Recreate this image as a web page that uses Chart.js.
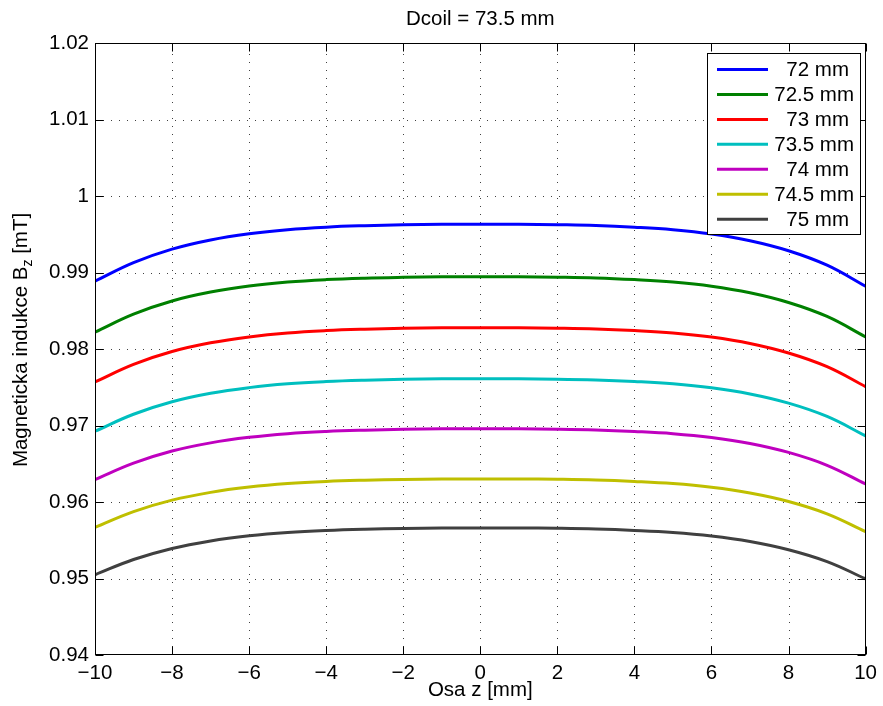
<!DOCTYPE html>
<html>
<head>
<meta charset="utf-8">
<script src="https://cdn.jsdelivr.net/npm/chart.js@4"></script>
<style>
  html, body { margin: 0; padding: 0; background: #fff; }
  #wrap { width: 883px; height: 706px; }
</style>
</head>
<body>
<div id="wrap"><canvas id="chart" width="883" height="706"></canvas></div>
<script>
const zPos = [-10, -9, -8, -7, -6, -5, -4, -3, -2, -1, 0, 1, 2, 3, 4, 5, 6, 7, 8, 9, 10];

const labels = ["72 mm", "72.5 mm", "73 mm", "73.5 mm", "74 mm", "74.5 mm", "75 mm"];
const colors = ["#0000ff", "#008000", "#ff0000", "#00bfbf", "#bf00bf", "#bfbf00", "#404040"];

const b72 = [0.98886, 0.99128, 0.99305, 0.99425, 0.99506, 0.99560, 0.99593, 0.99612, 0.99624, 0.99631, 0.99632,
  0.99631, 0.99625, 0.99615, 0.99593, 0.99560, 0.99504, 0.99416, 0.99285, 0.99096, 0.98821];
const b725 = [0.98221, 0.98456, 0.98628, 0.98744, 0.98823, 0.98875, 0.98907, 0.98926, 0.98937, 0.98944, 0.98945,
  0.98944, 0.98939, 0.98929, 0.98907, 0.98875, 0.98821, 0.98735, 0.98608, 0.98425, 0.98158];
const b73 = [0.97569, 0.97799, 0.97967, 0.98081, 0.98158, 0.98210, 0.98241, 0.98259, 0.98270, 0.98277, 0.98278,
  0.98277, 0.98272, 0.98262, 0.98241, 0.98210, 0.98156, 0.98073, 0.97948, 0.97769, 0.97508];
const b735 = [0.96925, 0.97147, 0.97310, 0.97421, 0.97495, 0.97545, 0.97575, 0.97593, 0.97604, 0.97610, 0.97611,
  0.97610, 0.97606, 0.97595, 0.97575, 0.97545, 0.97493, 0.97412, 0.97292, 0.97118, 0.96865];
const b74 = [0.96293, 0.96508, 0.96666, 0.96773, 0.96845, 0.96893, 0.96922, 0.96939, 0.96950, 0.96956, 0.96957,
  0.96956, 0.96952, 0.96942, 0.96922, 0.96893, 0.96843, 0.96765, 0.96648, 0.96480, 0.96235];
const b745 = [0.95668, 0.95874, 0.96024, 0.96126, 0.96195, 0.96241, 0.96269, 0.96285, 0.96295, 0.96301, 0.96302,
  0.96301, 0.96297, 0.96288, 0.96269, 0.96241, 0.96193, 0.96118, 0.96007, 0.95846, 0.95613];
const b75 = [0.95049, 0.95248, 0.95393, 0.95491, 0.95558, 0.95602, 0.95629, 0.95645, 0.95654, 0.95660, 0.95661,
  0.95660, 0.95656, 0.95647, 0.95629, 0.95602, 0.95556, 0.95484, 0.95376, 0.95221, 0.94996];

const series = [b72, b725, b73, b735, b74, b745, b75];

const FONT = "'Liberation Sans', Arial, sans-serif";
const FS = 20.5;

// matlab-like axes: dotted grid, box, inward ticks, legend, titles
const matlabAxes = {
  id: "matlabAxes",
  beforeDatasetsDraw(chart) {
    const { ctx, chartArea: a, scales: { x, y } } = chart;
    ctx.save();
    ctx.strokeStyle = "rgba(0,0,0,0.75)";
    ctx.lineWidth = 1;
    ctx.setLineDash([1, 7]);
    x.ticks.forEach(t => {
      const px = Math.round(x.getPixelForValue(t.value)) + 0.5;
      if (px <= a.left + 1 || px >= a.right - 1) return;
      ctx.beginPath(); ctx.moveTo(px, a.bottom); ctx.lineTo(px, a.top); ctx.stroke();
    });
    y.ticks.forEach(t => {
      const py = Math.round(y.getPixelForValue(t.value)) + 0.5;
      if (py <= a.top + 1 || py >= a.bottom - 1) return;
      ctx.beginPath(); ctx.moveTo(a.left, py); ctx.lineTo(a.right, py); ctx.stroke();
    });
    ctx.restore();
  },
  afterDatasetsDraw(chart) {
    const { ctx, chartArea: a, scales: { x, y } } = chart;
    ctx.save();
    ctx.strokeStyle = "#000";
    ctx.lineWidth = 1;
    const L = Math.round(a.left) + 0.5, R = Math.round(a.right) - 0.5;
    const T = Math.round(a.top) + 0.5, B = Math.round(a.bottom) - 0.5;
    ctx.strokeRect(L, T, R - L, B - T);
    const tl = 8;
    ctx.beginPath();
    x.ticks.forEach(t => {
      const px = Math.round(x.getPixelForValue(t.value)) + 0.5;
      ctx.moveTo(px, B); ctx.lineTo(px, B - tl);
      ctx.moveTo(px, T); ctx.lineTo(px, T + tl);
    });
    y.ticks.forEach(t => {
      const py = Math.round(y.getPixelForValue(t.value)) + 0.5;
      ctx.moveTo(L, py); ctx.lineTo(L + tl, py);
      ctx.moveTo(R, py); ctx.lineTo(R - tl, py);
    });
    ctx.stroke();
    ctx.restore();
  },
  afterDraw(chart) {
    const { ctx, chartArea: a } = chart;
    ctx.save();
    ctx.fillStyle = "#000";
    ctx.font = FS + "px " + FONT;

    // title
    ctx.textAlign = "center";
    ctx.textBaseline = "middle";
    ctx.fillText("Dcoil = 73.5 mm", (a.left + a.right) / 2, 19);

    // x title
    ctx.fillText("Osa z [mm]", (a.left + a.right) / 2, 690);

    // y title with subscript
    ctx.save();
    ctx.translate(21, 340);
    ctx.rotate(-Math.PI / 2);
    const p1 = "Magneticka indukce B", p2 = "z", p3 = " [mT]";
    const w1 = ctx.measureText(p1).width;
    const w3 = ctx.measureText(p3).width;
    ctx.font = "14px " + FONT;
    const w2 = ctx.measureText(p2).width;
    const total = w1 + w2 + w3;
    let sx = -total / 2;
    ctx.textAlign = "left";
    ctx.font = FS + "px " + FONT;
    ctx.fillText(p1, sx, 0);
    sx += w1;
    ctx.font = "14px " + FONT;
    ctx.fillText(p2, sx, 7);
    sx += w2;
    ctx.font = FS + "px " + FONT;
    ctx.fillText(p3, sx, 0);
    ctx.restore();

    // legend
    const lx = 707, ly = 53, lw = 153, lh = 181;
    ctx.fillStyle = "#fff";
    ctx.fillRect(lx, ly, lw, lh);
    ctx.strokeStyle = "#000";
    ctx.lineWidth = 1;
    ctx.strokeRect(lx + 0.5, ly + 0.5, lw, lh);
    ctx.textAlign = "right";
    ctx.textBaseline = "middle";
    labels.forEach((lab, i) => {
      const ry = 69.5 + i * 24.95;
      ctx.strokeStyle = colors[i];
      ctx.lineWidth = 3;
      ctx.beginPath(); ctx.moveTo(717, ry); ctx.lineTo(768, ry); ctx.stroke();
      ctx.fillStyle = "#000";
      ctx.fillText(lab, lab.indexOf(".") > 0 ? 854 : 849, ry + 1);
    });
    ctx.restore();
  }
};

new Chart(document.getElementById("chart"), {
  type: "line",
  data: {
    datasets: series.map((s, i) => ({
      label: labels[i],
      data: s.map((v, k) => ({ x: zPos[k], y: v })),
      borderColor: colors[i],
      borderWidth: 3,
      pointRadius: 0,
      fill: false,
      tension: 0.4
    }))
  },
  options: {
    responsive: false,
    animation: false,
    layout: { padding: { left: 0, right: 15, top: 43, bottom: 0 } },
    plugins: {
      legend: { display: false },
      title: { display: false },
      tooltip: { enabled: false }
    },
    scales: {
      x: {
        type: "linear",
        min: -10,
        max: 10,
        afterFit: s => { s.height = 51; },
        grid: { display: false, drawTicks: false },
        border: { display: false },
        ticks: {
          stepSize: 2,
          padding: 6,
          color: "#000",
          font: { family: FONT, size: FS },
          maxRotation: 0,
          callback: v => v < 0 ? "\u2212" + Math.abs(v) : String(v)
        }
      },
      y: {
        min: 0.94,
        max: 1.02,
        afterFit: s => { s.width = 95; },
        grid: { display: false, drawTicks: false },
        border: { display: false },
        ticks: {
          stepSize: 0.01,
          padding: 6,
          color: "#000",
          font: { family: FONT, size: FS },
          callback: v => String(Number(v.toFixed(2)))
        }
      }
    }
  },
  plugins: [matlabAxes]
});
</script>
</body>
</html>
